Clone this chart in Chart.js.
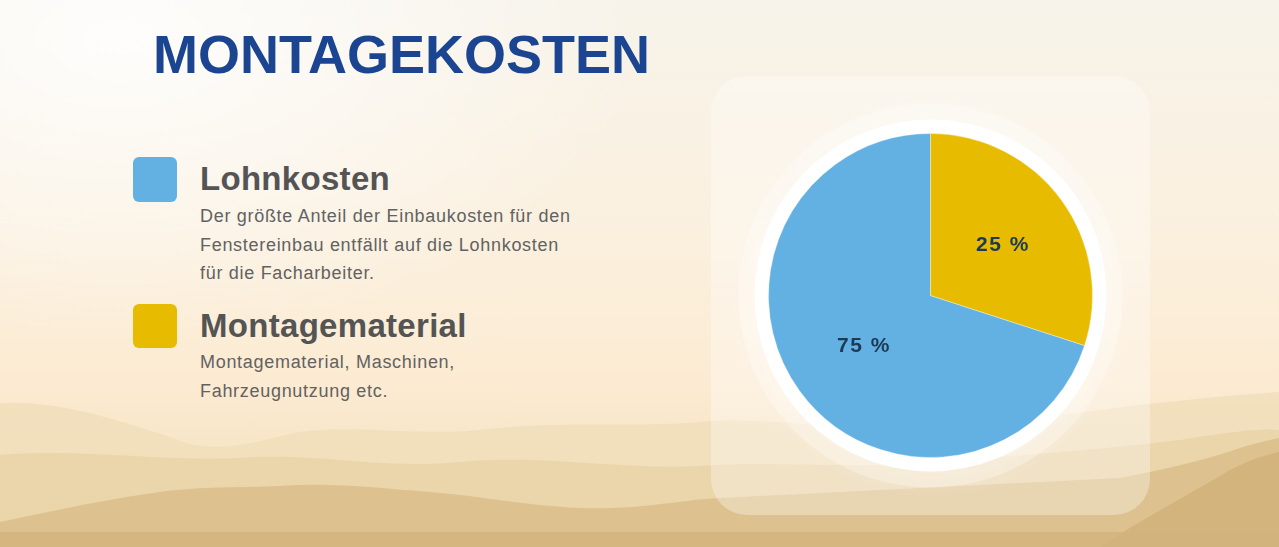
<!DOCTYPE html>
<html lang="de">
<head>
<meta charset="utf-8">
<title>Montagekosten</title>
<script src="https://cdn.jsdelivr.net/npm/chart.js@4/dist/chart.umd.min.js"></script>
<style>
  html, body { margin: 0; padding: 0; }
  body {
    width: 1279px; height: 547px; position: relative; overflow: hidden;
    font-family: "Liberation Sans", Arial, sans-serif;
    background:
      radial-gradient(ellipse 520px 300px at 120px 40px, rgba(255,255,255,0.85), rgba(255,255,255,0) 100%),
      linear-gradient(180deg, #f7f3ea 0%, #fbf0de 45%, #fcebd2 70%, #f2ddb8 100%);
  }
  #hills { position: absolute; left: 0; top: 0; }
  h1 {
    position: absolute; left: 153px; top: 27px; margin: 0;
    font-size: 54px; line-height: 54px; font-weight: bold; color: #1b4590;
  }
  .swatch { position: absolute; left: 133px; width: 44px; height: 45px; border-radius: 6px; }
  h2 {
    position: absolute; left: 200px; margin: 0;
    font-size: 33px; line-height: 33px; font-weight: bold; color: #545454;
    letter-spacing: 0.3px;
  }
  p {
    position: absolute; left: 200px; margin: 0;
    font-size: 18px; line-height: 28.5px; color: #626262;
    letter-spacing: 0.7px;
  }
  #card {
    position: absolute; left: 711px; top: 76px; width: 439px; height: 439px;
    border-radius: 36px; background: rgba(255,255,255,0.32);
  }
  #pie { position: absolute; left: 711px; top: 76px; }
</style>
</head>
<body>
<svg id="hills" width="1279" height="547">
  <path d="M0 403 C60 400 120 420 190 444 C230 452 260 440 300 432 C360 425 420 436 480 430 C560 420 640 428 700 422 C760 416 820 430 880 424 C960 414 1040 420 1100 410 C1160 402 1220 396 1279 392 L1279 547 L0 547 Z" fill="#f0ddb9" opacity="0.8"/>
  <path d="M0 455 C80 448 160 462 240 458 C320 452 380 470 460 462 C540 454 620 470 700 466 C780 460 860 470 940 462 C1020 455 1100 450 1180 440 C1230 432 1260 428 1279 430 L1279 547 L0 547 Z" fill="#e8d1a5" opacity="0.75"/>
  <path d="M0 522 C50 512 100 500 160 492 C210 486 240 488 280 486 C330 482 380 488 430 492 C480 496 520 505 580 508 C640 510 680 500 720 498 L1120 478 C1160 470 1200 462 1240 448 C1260 442 1270 440 1279 438 L1279 547 L0 547 Z" fill="#dcbf8b" opacity="0.9"/>
  <path d="M1100 547 C1140 520 1180 500 1230 470 C1250 460 1265 455 1279 452 L1279 547 Z" fill="#cfb078" opacity="0.8"/>
  <rect x="0" y="532" width="1279" height="15" fill="#d3b37d" opacity="0.8"/>
</svg>

<h1>MONTAGEKOSTEN</h1>

<div class="swatch" style="top:157px;background:#63b1e3"></div>
<h2 style="top:162px">Lohnkosten</h2>
<p style="top:202px">Der größte Anteil der Einbaukosten für den<br>Fenstereinbau entfällt auf die Lohnkosten<br>für die Facharbeiter.</p>

<div class="swatch" style="top:304px;height:44px;background:#e6bb00"></div>
<h2 style="top:309px">Montagematerial</h2>
<p style="top:348px">Montagematerial, Maschinen,<br>Fahrzeugnutzung etc.</p>

<div id="card"></div>
<canvas id="pie" width="439" height="439"></canvas>

<script>
// data
const categories = ['Lohnkosten', 'Montagematerial'];
const shares = [70, 30];            // drawn slice sizes
const shareLabels = ['75 %', '25 %']; // printed labels
const sliceColors = ['#63b1e3', '#e6bb00'];

const total = shares.reduce((a, b) => a + b, 0);

// white ring + soft glow behind the pie
const ringPlugin = {
  id: 'ring',
  beforeDatasetsDraw(chart) {
    const arc = chart.getDatasetMeta(0).data[0];
    if (!arc) return;
    const ctx = chart.ctx;
    ctx.save();
    ctx.beginPath();
    ctx.arc(arc.x, arc.y, arc.outerRadius + 30, 0, Math.PI * 2);
    ctx.fillStyle = 'rgba(255,255,255,0.25)';
    ctx.shadowColor = 'rgba(255,255,255,0.6)';
    ctx.shadowBlur = 20;
    ctx.fill();
    ctx.shadowBlur = 0;
    ctx.beginPath();
    ctx.arc(arc.x, arc.y, arc.outerRadius + 14, 0, Math.PI * 2);
    ctx.fillStyle = '#ffffff';
    ctx.fill();
    ctx.restore();
  }
};

const labelPlugin = {
  id: 'sliceLabels',
  afterDatasetsDraw(chart) {
    const ctx = chart.ctx;
    chart.getDatasetMeta(0).data.forEach((arc, i) => {
      const mid = (arc.startAngle + arc.endAngle) / 2;
      const r = arc.outerRadius * 0.53;
      ctx.save();
      ctx.font = 'bold 21px "Liberation Sans", Arial, sans-serif';
      ctx.letterSpacing = '1.5px';
      ctx.fillStyle = '#1d3a55';
      ctx.textAlign = 'center';
      ctx.textBaseline = 'middle';
      ctx.fillText(shareLabels[i], arc.x + Math.cos(mid) * r + 3, arc.y + Math.sin(mid) * r);
      ctx.restore();
    });
  }
};

new Chart(document.getElementById('pie'), {
  type: 'pie',
  data: {
    labels: categories,
    datasets: [{
      data: shares,
      backgroundColor: sliceColors,
      borderColor: 'rgba(255,255,255,0.35)',
      borderWidth: 1
    }]
  },
  options: {
    responsive: false,
    animation: false,
    rotation: shares[1] / total * 360,
    layout: { padding: 57 },
    plugins: {
      legend: { display: false },
      tooltip: { enabled: false }
    }
  },
  plugins: [ringPlugin, labelPlugin]
});
</script>
</body>
</html>
